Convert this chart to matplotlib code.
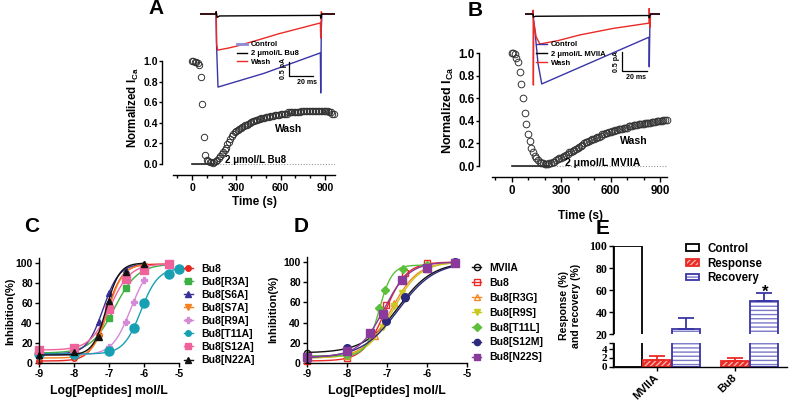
import numpy as np
import matplotlib
matplotlib.use('Agg')
import matplotlib.pyplot as plt
from matplotlib.lines import Line2D
from matplotlib.patches import Patch

plt.rcParams['font.family'] = ['Liberation Sans', 'DejaVu Sans']
plt.rcParams['font.weight'] = 'bold'
plt.rcParams['axes.unicode_minus'] = False
plt.rcParams['mathtext.fontset'] = 'custom'
plt.rcParams['mathtext.rm'] = 'Liberation Sans:bold'
plt.rcParams['mathtext.bf'] = 'Liberation Sans:bold'
plt.rcParams['mathtext.it'] = 'Liberation Sans:bold:italic'
plt.rcParams['axes.linewidth'] = 1.0

# ---------------- DATA ----------------
# Panel A: normalized I_Ca time course (10 s sampling)
timeA = np.arange(0, 970, 10)
normA = [1.00, 1.00, 0.99, 0.99, 0.98, 0.96, 0.84, 0.58, 0.26, 0.09,
         0.04, 0.03, 0.02, 0.02, 0.01, 0.02, 0.03, 0.04, 0.06, 0.08,
         0.10, 0.12, 0.14, 0.16, 0.19, 0.21, 0.24, 0.27, 0.29, 0.31,
         0.32, 0.33, 0.34, 0.35, 0.36, 0.37, 0.38, 0.38, 0.39, 0.40,
         0.41, 0.42, 0.42, 0.43, 0.43, 0.44, 0.44, 0.45, 0.45, 0.45,
         0.46, 0.46, 0.46, 0.47, 0.47, 0.47, 0.48, 0.48, 0.48, 0.48,
         0.49, 0.49, 0.49, 0.49, 0.49, 0.50, 0.50, 0.50, 0.50, 0.50,
         0.50, 0.50, 0.50, 0.50, 0.51, 0.51, 0.51, 0.51, 0.51, 0.51,
         0.51, 0.51, 0.51, 0.51, 0.51, 0.51, 0.51, 0.51, 0.51, 0.51,
         0.51, 0.51, 0.51, 0.50, 0.50, 0.49, 0.49]
drugA = [0, 140]
# Panel A inset traces (ms, pA)
A_ctrl_t = [-14, 0, 0.4, 1.7, 40, 87, 87.3, 87.8, 88.3, 100]
A_ctrl_i = [0, 0, -1.0, -2.61, -2.12, -1.39, -2.82, -0.5, 0, 0]
A_wash_t = [-14, 0, 0.2, 0.6, 1.5, 10, 18, 35, 52, 70, 87, 87.3, 87.8, 88.3, 100]
A_wash_i = [0, 0, 0.08, -1.1, -1.29, -1.22, -1.14, -0.93, -0.71, -0.51, -0.32, -0.86, 0.08, 0, 0]
A_drug_t = [-14, 0, 0.2, 1, 3, 87, 87.3, 88, 100]
A_drug_i = [0, 0, 0.08, -0.12, -0.07, -0.05, -0.15, 0, 0]

# Panel B
timeB = np.arange(0, 950, 10)
normB = [1.00, 1.00, 0.99, 0.96, 0.92, 0.83, 0.73, 0.60, 0.47, 0.37,
         0.28, 0.22, 0.16, 0.12, 0.09, 0.07, 0.05, 0.04, 0.03, 0.03,
         0.02, 0.02, 0.02, 0.03, 0.03, 0.04, 0.04, 0.05, 0.06, 0.07,
         0.07, 0.08, 0.09, 0.10, 0.11, 0.12, 0.12, 0.13, 0.14, 0.15,
         0.16, 0.17, 0.18, 0.19, 0.20, 0.21, 0.21, 0.22, 0.23, 0.24,
         0.24, 0.25, 0.26, 0.26, 0.27, 0.28, 0.28, 0.29, 0.29, 0.30,
         0.30, 0.31, 0.31, 0.32, 0.32, 0.33, 0.33, 0.33, 0.34, 0.34,
         0.34, 0.35, 0.35, 0.35, 0.36, 0.36, 0.36, 0.37, 0.37, 0.37,
         0.37, 0.38, 0.38, 0.38, 0.38, 0.39, 0.39, 0.39, 0.40, 0.40,
         0.40, 0.40, 0.41, 0.41, 0.41]
drugB = [0, 230]
B_ctrl_t = [-6, 0, 2, 4, 7, 92.8, 93.0, 93.5, 94, 101]
B_ctrl_i = [0, 0, -0.6, -1.3, -1.84, -0.61, -1.39, -0.3, 0, 0]
B_wash_t = [-6, 0, 0.1, 0.3, 0.6, 2.5, 5.5, 20, 37.6, 64, 92.8, 93.0, 93.5, 94, 101]
B_wash_i = [0, 0, 0.1, -1.87, -0.2, -0.6, -0.79, -0.70, -0.55, -0.38, -0.24, 0.15, -0.35, 0, 0]
B_drug_t = [-6, 0, 0.3, 2, 92.8, 93.0, 94, 101]
B_drug_i = [0, 0, -0.08, -0.06, -0.04, -0.10, 0, 0]

# Panel C
C_labels = ['Bu8', 'Bu8[R3A]', 'Bu8[S6A]', 'Bu8[S7A]', 'Bu8[R9A]', 'Bu8[T11A]', 'Bu8[S12A]', 'Bu8[N22A]']
C_x = [[-9, -8, -7.3, -7, -6.52, -6, -5.3],
       [-9, -8, -7, -6.52, -6, -5.3],
       [-9, -8, -7.3, -7, -6.52, -6],
       [-9, -8, -7.3, -7, -6.52, -6],
       [-9, -8, -7, -6.52, -6.3, -6],
       [-9, -8, -7, -6.3, -6, -5.3, -5],
       [-9, -8, -7, -6.52, -6, -5.3],
       [-9, -8, -7.3, -7, -6.52, -6]]
C_y = [[2, 5, 28, 58, 88, 96, 99],
       [10, 12, 45, 75, 94, 99],
       [9, 11, 41, 70, 93, 99],
       [5, 6, 26, 55, 87, 97],
       [8, 9, 16, 41, 61, 83],
       [9, 9, 12, 35, 60, 89, 94],
       [13, 15, 54, 84, 93, 99],
       [8, 11, 26, 62, 91, 99]]
C_bottom = [2, 10, 9, 5, 8, 9, 13, 8]
C_top = [99, 99, 99, 99, 100, 95, 99, 100]
C_logic50 = [-7.07, -6.85, -7.17, -7.03, -6.38, -6.09, -6.97, -7.08]
C_hill = [1.9, 1.3, 1.9, 2.0, 1.65, 1.76, 1.5, 2.3]

# Panel D
D_labels = ['MVIIA', 'Bu8', 'Bu8[R3G]', 'Bu8[R9S]', 'Bu8[T11L]', 'Bu8[S12M]', 'Bu8[N22S]']
D_x = [[-9, -8, -7.02, -6.55, -5.3],
       [-9, -8, -7.02, -6.54, -6, -5.3],
       [-9, -8, -7.3, -6.82, -6, -5.3],
       [-9, -8, -7.1, -6.82, -6.63, -5.3],
       [-9, -8, -7.19, -7.05, -6.6, -6],
       [-9, -8, -7.02, -6.55, -5.3],
       [-9, -8, -7.42, -7.1, -6.63, -6, -5.3]]
D_y = [[10, 13, 43, 64, 99],
       [2, 5, 57, 89, 99, 99],
       [5, 7, 27, 59, 93, 99],
       [5, 7, 36, 56, 69, 99],
       [7, 8, 54, 72, 93, 97],
       [5, 15, 42, 65, 100],
       [6, 12, 30, 49, 82, 94, 99]]
D_bottom = [10, 2, 5, 5, 7, 5, 6]
D_top = [100, 100, 100, 100, 97, 100, 100]
D_logic50 = [-6.72, -7.05, -6.9, -6.85, -7.2, -6.72, -7.08]
D_hill = [1.0, 1.6, 1.3, 1.3, 2.7, 0.95, 1.38]

# Panel E
E_groups = ['MVIIA', 'Bu8']
E_control = [100, np.nan]
E_response = [1.5, 1.27]
E_response_err = [0.9, 0.76]
E_recovery = [24.8, 50.2]
E_recovery_err = [9.7, 6.9]

# ---------------- FIGURE ----------------
W, H = 789, 408
fig = plt.figure(figsize=(W / 100, H / 100), dpi=100)


def px_axes(l, t, r, b):
    ax = fig.add_axes([l / W, 1 - b / H, (r - l) / W, (b - t) / H])
    ax.set_facecolor('none')
    return ax


def fx(x):
    return x / W


def fy(y):
    return 1 - y / H


BLUE = '#3a35a6'
RED = '#ea2a26'


def time_axes(ax, outward_px, fs):
    ax.spines[['top', 'right']].set_visible(False)
    ax.spines['left'].set_position(('outward', outward_px * 0.72))
    ax.spines['left'].set_bounds(0, 1)
    ax.set_yticks(np.arange(0, 1.01, 0.2))
    ax.set_yticklabels(['%.1f' % v for v in np.arange(0, 1.01, 0.2)])
    ax.set_xticks([0, 300, 600, 900])
    ax.set_xticks([-100, 100, 200, 400, 500, 700, 800], minor=True)
    ax.tick_params(axis='y', which='major', direction='out', length=2.2, width=1, labelsize=fs, pad=0.8)
    ax.tick_params(axis='x', which='major', direction='out', length=3.5, width=1, labelsize=fs, pad=2)
    ax.tick_params(axis='x', which='minor', direction='out', length=2.2, width=1)


# ---- Panel A ----
axA = px_axes(173, 58, 335, 175)
axA.set_xlim(-128.6, 967.6)
axA.set_ylim(-0.107, 1.029)
time_axes(axA, 11, 7.5)
axA.plot([0, 968], [0, 0], ls=(0, (1, 1.5)), color='#999999', lw=0.8)
axA.plot(drugA, [-0.005, -0.005], color='#222222', lw=1.2)
axA.plot(timeA, normA, 'o', ms=4.6, mfc='none', mec='#333333', mew=0.7, clip_on=False)
axA.text(223, 0.008, '2 μmol/L Bu8', fontsize=7, va='baseline', ha='left')
axA.text(562, 0.31, 'Wash', fontsize=7.5, va='baseline', ha='left')
fig.text(fx(133), fy(108), r'Normalized I$_{\rm Ca}$', rotation=90, ha='center', va='center', fontsize=8.3)
fig.text(fx(255), fy(202), 'Time (s)', ha='center', va='center', fontsize=8.5)

# Inset A
insA = px_axes(200, 8, 335, 98)
insA.set_xlim(-13.3, 99.2)
insA.set_ylim(-3.0, 0.214)
insA.axis('off')
insA.plot(A_ctrl_t, A_ctrl_i, color=BLUE, lw=1.0)
insA.plot(A_wash_t, A_wash_i, color=RED, lw=1.0)
insA.plot(A_drug_t, A_drug_i, color='black', lw=1.0)
insA.plot([60.8, 60.8, 80.8], [-1.71, -2.21, -2.21], color='black', lw=0.9)
insA.text(56.2, -1.96, '0.5 pA', rotation=90, fontsize=5, ha='center', va='center')
insA.text(76.0, -2.43, '20 ms', fontsize=5, ha='center', va='center')
hA = [Line2D([], [], color='#8e8ad8', lw=2), Line2D([], [], color='black', lw=1), Line2D([], [], color=RED, lw=1)]
insA.legend(hA, ['Control', '2 μmol/L Bu8', 'Wash'], loc='upper left',
            bbox_to_anchor=(fx(237), fy(41)), bbox_transform=fig.transFigure,
            frameon=False, fontsize=5.5, handlelength=1.35, handletextpad=0.5,
            labelspacing=0.2, borderpad=0, borderaxespad=0)

# ---- Panel B ----
axB = px_axes(492, 50, 667, 177)
axB.set_xlim(-118.2, 942.4)
axB.set_ylim(-0.097, 1.027)
time_axes(axB, 13, 8.3)
axB.plot([0, 945], [0, 0], ls=(0, (1, 1.5)), color='#999999', lw=0.8)
axB.plot(drugB, [-0.003, -0.003], color='#222222', lw=1.2)
axB.plot(timeB, normB, 'o', ms=4.8, mfc='none', mec='#333333', mew=0.7, clip_on=False)
axB.text(324, 0.004, '2 μmol/L MVIIA', fontsize=7.6, va='baseline', ha='left')
axB.text(658, 0.195, 'Wash', fontsize=7.6, va='baseline', ha='left')
fig.text(fx(448), fy(110), r'Normalized I$_{\rm Ca}$', rotation=90, ha='center', va='center', fontsize=9.0)
fig.text(fx(580), fy(216), 'Time (s)', ha='center', va='center', fontsize=8.5)

insB = px_axes(525, 8, 660, 97)
insB.set_xlim(-6.4, 101.6)
insB.set_ylim(-2.184, 0.158)
insB.axis('off')
insB.plot(B_ctrl_t, B_ctrl_i, color=BLUE, lw=1.0)
insB.plot(B_wash_t, B_wash_i, color=RED, lw=1.0)
insB.plot(B_drug_t, B_drug_i, color='black', lw=1.0)
insB.plot([71.2, 71.2, 91.2], [-1.0, -1.5, -1.5], color='black', lw=0.9)
insB.text(67.0, -1.25, '0.5 pA', rotation=90, fontsize=5, ha='center', va='center')
insB.text(82.4, -1.66, '20 ms', fontsize=5, ha='center', va='center')
hB = [Line2D([], [], color=BLUE, lw=1), Line2D([], [], color='black', lw=1), Line2D([], [], color=RED, lw=1)]
insB.legend(hB, ['Control', '2 μmol/L MVIIA', 'Wash'], loc='upper left',
            bbox_to_anchor=(fx(536), fy(41)), bbox_transform=fig.transFigure,
            frameon=False, fontsize=5.5, handlelength=1.45, handletextpad=0.5,
            labelspacing=0.25, borderpad=0, borderaxespad=0)


# ---- Dose-response helpers ----
def hill_curve(x, bottom, top, logic50, hill):
    return bottom + (top - bottom) / (1 + 10 ** ((logic50 - x) * hill))


def style_dose(ax):
    ax.set_xlim(-9, -5)
    ax.set_ylim(0, 105)
    ax.spines[['top', 'right']].set_visible(False)
    ax.set_xticks([-9, -8, -7, -6, -5])
    ax.set_yticks([0, 20, 40, 60, 80, 100])
    ax.tick_params(direction='out', length=3, width=1, labelsize=7.5, pad=1.5)


# ---- Panel C ----
axC = px_axes(39, 258, 179, 363)
style_dose(axC)
C_colors = ['#e8251f', '#3cb043', '#3a2f96', '#f58220', '#d58ad6', '#17a0b4', '#f0639a', '#111111']
C_markers = ['o', 's', '^', 'v', 'P', 'o', 's', '^']
C_ms = [4, 4, 4, 4, 4.5, 6.5, 6, 4.5]
handlesC = []
for i in range(len(C_labels)):
    xx = np.linspace(-9, max(C_x[i]), 200)
    axC.plot(xx, hill_curve(xx, C_bottom[i], C_top[i], C_logic50[i], C_hill[i]), color=C_colors[i], lw=1.0, clip_on=False)
    axC.plot(C_x[i], C_y[i], C_markers[i], color=C_colors[i], ms=C_ms[i], mec=C_colors[i], clip_on=False)
    handlesC.append(Line2D([], [], color=C_colors[i], marker=C_markers[i], ms=4, lw=1.0))
axC.legend(handlesC, C_labels, loc='upper left', bbox_to_anchor=(fx(184), fy(264)),
           bbox_transform=fig.transFigure, frameon=False, fontsize=7.5, handlelength=0.85,
           handletextpad=0.8, labelspacing=0.29, borderpad=0, borderaxespad=0)
fig.text(fx(10), fy(311), 'Inhibition(%)', rotation=90, ha='center', va='center', fontsize=8)
fig.text(fx(109), fy(391), 'Log[Peptides] mol/L', ha='center', va='center', fontsize=8.8)

# ---- Panel D ----
axD = px_axes(307, 257, 467, 363)
style_dose(axD)
D_colors = ['#111111', '#ea2a26', '#f58a24', '#c9c920', '#5cbf3a', '#2c2a7c', '#8a3a9a']
D_markers = ['o', 's', '^', 'v', 'D', 'o', 's']
D_mfc = ['none', 'none', 'none', None, None, None, None]
D_ms = [4.5, 5, 5, 5, 4.5, 5.5, 5.5]
handlesD = []
for i in range(len(D_labels)):
    xx = np.linspace(-9, max(D_x[i]), 200)
    axD.plot(xx, hill_curve(xx, D_bottom[i], D_top[i], D_logic50[i], D_hill[i]), color=D_colors[i], lw=1.0, clip_on=False)
    mfc = D_mfc[i] if D_mfc[i] is not None else D_colors[i]
    axD.plot(D_x[i], D_y[i], D_markers[i], ms=D_ms[i], mfc=mfc, mec=D_colors[i], mew=1.0, clip_on=False)
    handlesD.append(Line2D([], [], color=D_colors[i], marker=D_markers[i], ms=4.5, mfc=mfc, mec=D_colors[i], lw=1.0))
axD.legend(handlesD, D_labels, loc='upper left', bbox_to_anchor=(fx(472), fy(263)),
           bbox_transform=fig.transFigure, frameon=False, fontsize=7.5, handlelength=0.9,
           handletextpad=0.8, labelspacing=0.47, borderpad=0, borderaxespad=0)
fig.text(fx(273), fy(309), 'Inhibition(%)', rotation=90, ha='center', va='center', fontsize=8)
fig.text(fx(387), fy(391), 'Log[Peptides] mol/L', ha='center', va='center', fontsize=8.8)

# ---- Panel E (broken axis) ----
xl = (-0.564, 1.667)
axEu = px_axes(613, 246, 787, 334.3)
axEl = px_axes(613, 343.3, 787, 366.5)
axEu.set_ylim(20, 100)
axEl.set_ylim(0, 5.35)
HATCH_RED = '#ffb4aa'
HATCH_BLUE = '#7b78c8'
offs = [-0.37, 0, 0.37]
bw = 0.36
xg = np.arange(len(E_groups))
for ax in (axEu, axEl):
    ax.set_xlim(*xl)
    ax.bar(xg + offs[0], E_control, bw, facecolor='white', edgecolor='black', lw=1.3)
    ax.bar(xg + offs[1], E_response, bw, facecolor=RED, edgecolor=HATCH_RED, hatch='//////', lw=0)
    ax.bar(xg + offs[1], E_response, bw, fill=False, edgecolor=RED, lw=1.3)
    ax.bar(xg + offs[2], E_recovery, bw, facecolor='white', edgecolor=HATCH_BLUE, hatch='----', lw=0)
    ax.bar(xg + offs[2], E_recovery, bw, fill=False, edgecolor=BLUE, lw=1.3)
    ax.spines[['top', 'right']].set_visible(False)
axEl.errorbar(xg + offs[1], E_response, yerr=[[0, 0], E_response_err], fmt='none', ecolor=RED,
              elinewidth=1.3, capsize=5.5, capthick=1.3)
axEu.errorbar(xg + offs[2], E_recovery, yerr=[[0, 0], E_recovery_err], fmt='none', ecolor=BLUE,
              elinewidth=1.3, capsize=5.5, capthick=1.3)
axEu.text(1 + offs[2] + 0.02, 54, '*', fontsize=12, ha='center', va='baseline')
axEu.spines['bottom'].set_visible(False)
axEu.set_xticks([])
axEu.set_yticks([20, 40, 60, 80, 100])
axEu.tick_params(axis='y', direction='out', length=3, width=1, labelsize=8.5, pad=1)
for lab in axEu.get_yticklabels():
    lab.set_fontfamily('Liberation Serif')
axEl.set_yticks([0, 2, 4, 5.35])
axEl.set_yticklabels(['0', '2', '4', ''])
axEl.tick_params(axis='y', direction='out', length=3, width=1, labelsize=8, pad=1)
for lab in axEl.get_yticklabels():
    lab.set_fontfamily('Liberation Serif')
axEl.set_xticks(xg)
axEl.set_xticklabels(E_groups, rotation=45, ha='right', va='center', rotation_mode='anchor', fontsize=8)
axEl.tick_params(axis='x', direction='out', length=3, width=1, pad=4)
hE = [Patch(facecolor='white', edgecolor='black', lw=1.3),
      (Patch(facecolor=RED, edgecolor=HATCH_RED, hatch='//////', lw=0), Patch(fill=False, edgecolor=RED, lw=1.3)),
      (Patch(facecolor='white', edgecolor=HATCH_BLUE, hatch='----', lw=0), Patch(fill=False, edgecolor=BLUE, lw=1.3))]
axEu.legend(hE, ['Control', 'Response', 'Recovery'], loc='upper left', bbox_to_anchor=(fx(686), fy(243)),
            bbox_transform=fig.transFigure, frameon=False, fontsize=8.3, handlelength=1.15,
            handleheight=0.55, handletextpad=0.7, labelspacing=0.22, borderpad=0, borderaxespad=0)
fig.text(fx(570), fy(306), 'Response (%)\nand recovery (%)', rotation=90, ha='center', va='center',
         fontsize=7.6, linespacing=1.15)

# ---- Panel letters ----
for letter, x, y in [('A', 156, 9), ('B', 475, 10), ('C', 32, 226), ('D', 301, 227), ('E', 603, 228)]:
    fig.text(fx(x), fy(y), letter, fontsize=15, ha='center', va='center', fontweight='bold')

fig.savefig('out.png', dpi=100)
